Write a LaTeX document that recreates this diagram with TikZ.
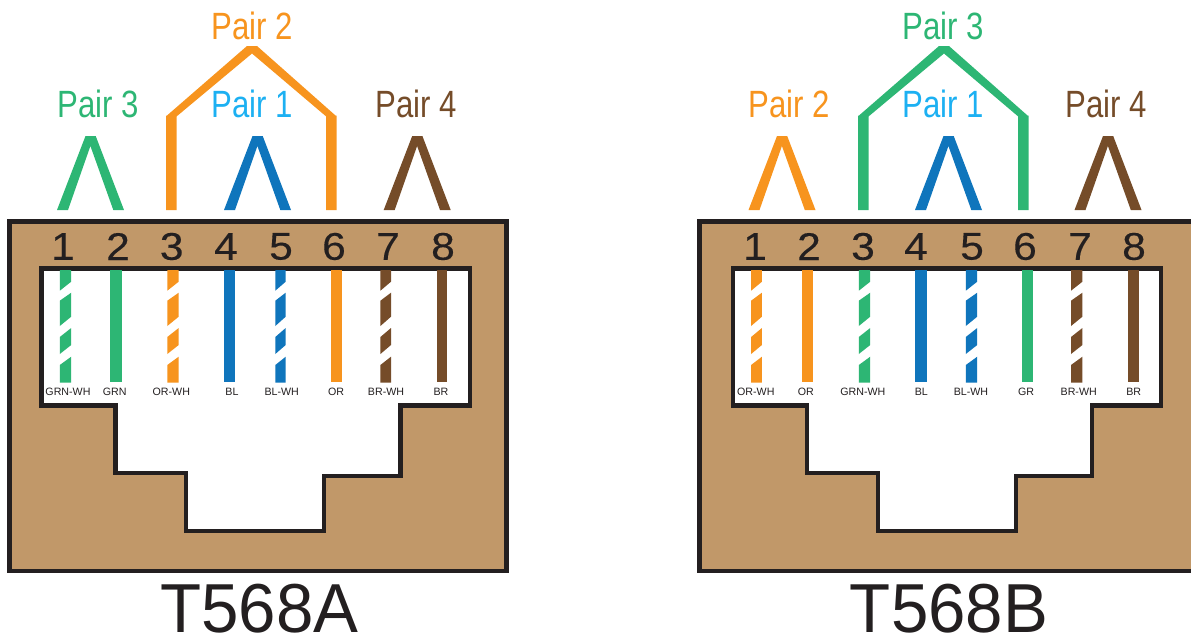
\documentclass[tikz,border=0pt]{standalone}
\usepackage{fontspec}
\setmainfont{Liberation Sans}
\newfontfamily\pinfont[FakeBold=0.25]{Liberation Sans}
\definecolor{jackbrown}{HTML}{C19869}
\definecolor{wor}{HTML}{F7941E}
\definecolor{wgr}{HTML}{2DB674}
\definecolor{wbl}{HTML}{0F75BC}
\definecolor{wbr}{HTML}{754C29}
\definecolor{tbl}{HTML}{1CB0F2}
\definecolor{ink}{HTML}{231F20}
\tikzset{
  jack/.style={draw=ink,line width=3.6pt,fill=jackbrown,line join=miter},
  cavity/.style={draw=ink,line width=3.3pt,fill=white,line join=miter},
  pairlabel/.style={font=\fontsize{28.5pt}{30pt}\selectfont,xscale=.82,transform shape,inner sep=0pt},
  pinnum/.style={font=\pinfont\fontsize{29pt}{30pt}\selectfont,text=ink,xscale=1.1,transform shape,inner sep=0pt},
  wirelabel/.style={font=\fontsize{8pt}{9pt}\selectfont,text=ink,inner sep=0pt},
  title/.style={font=\fontsize{52pt}{54pt}\selectfont,text=ink,xscale=.97,transform shape,inner sep=0pt,anchor=base}
}
% solid wire: centre x, colour, half width
\newcommand{\solidwire}[3]{\fill[#2] (#1-#3,270) rectangle (#1+#3,382);}
% striped wire
\newcommand{\stripewire}[3]{%
  \fill[#2] (#1-#3,270) -- (#1+#3,270) -- (#1+#3,281.7) -- (#1-#3,290.7) -- cycle;
  \fill[#2] (#1-#3,300.7) -- (#1+#3,292.7) -- (#1+#3,316.7) -- (#1-#3,326) -- cycle;
  \fill[#2] (#1-#3,337) -- (#1+#3,328) -- (#1+#3,345) -- (#1-#3,354) -- cycle;
  \fill[#2] (#1-#3,365) -- (#1+#3,356.7) -- (#1+#3,382.5) -- (#1-#3,382.5) -- cycle;}
% chevron: left foot x, colour
\newcommand{\chevron}[2]{%
  \fill[#2] (#1,210) -- (#1+28.5,136) -- (#1+38.7,136) -- (#1+67,210) -- (#1+56.3,210)
    -- (#1+33.4,146) -- (#1+11,210) -- cycle;}
% house: left x, colour
\newcommand{\house}[2]{%
  \fill[#2] (#1,210) -- (#1,115.5) -- (#1+1,115.5) -- (#1+81,46) -- (#1+91,46)
    -- (#1+169.5,115.5) -- (#1+170.5,115.5) -- (#1+170.5,210)
    -- (#1+160.2,210) -- (#1+160.2,116.5) -- (#1+86,53.5) -- (#1+10.5,116.5) -- (#1+10.5,210) -- cycle;}
\begin{document}
\begin{tikzpicture}[x=.75pt,y=-.75pt]
\useasboundingbox (0,0) rectangle (1191,636);
% ---------- T568A
\draw[jack] (9.5,221.5) rectangle (506.7,571);
\draw[cavity] (41.5,268.5) -- (41.5,405.5) -- (115.5,405.5) -- (115.5,473) -- (186,473) -- (186,531)
  -- (324,531) -- (324,476) -- (400.5,476) -- (400.5,405.5) -- (470,405.5) -- (470,268.5) -- cycle;
\stripewire{65.5}{wgr}{5.7}
\solidwire{116}{wgr}{5.7}
\stripewire{173}{wor}{5.7}
\solidwire{229.5}{wbl}{5.7}
\stripewire{280.5}{wbl}{5.2}
\solidwire{336.5}{wor}{5.2}
\stripewire{385.7}{wbr}{5.3}
\solidwire{441.8}{wbr}{5.2}
\foreach \n/\x in {1/63,2/118,3/171.7,4/226,5/281,6/334,7/388,8/443}
  \node[pinnum] (an\n) at (\x,246.5) {\n};
\foreach \n/\x/\t in {1/68/GRN-WH,2/114.7/GRN,3/171.3/OR-WH,4/232/BL,5/281.7/BL-WH,6/336/OR,7/386/BR-WH,8/441/BR}
  \node[wirelabel] (al\n) at (\x,392) {\t};
\chevron{57}{wgr}
\chevron{224}{wbl}
\chevron{383.7}{wbr}
\house{166}{wor}
\node[pairlabel,text=wgr] (ap3) at (98,104) {Pair 3};
\node[pairlabel,text=wor] (ap2) at (252,26) {Pair 2};
\node[pairlabel,text=tbl] (ap1) at (252,104) {Pair 1};
\node[pairlabel,text=wbr] (ap4) at (416,104) {Pair 4};
\node[title] (at) at (259.5,632.5) {T568A};
% ---------- T568B
\draw[jack] (699.5,221.5) rectangle (1197,571);
\draw[cavity] (733,268.5) -- (733,405.5) -- (807,405.5) -- (807,473) -- (878,473) -- (878,531)
  -- (1016,531) -- (1016,476) -- (1092,476) -- (1092,405.5) -- (1161,405.5) -- (1161,268.5) -- cycle;
\stripewire{756.5}{wor}{5.4}
\solidwire{807.5}{wor}{5.7}
\stripewire{864.5}{wgr}{5.7}
\solidwire{921}{wbl}{5.7}
\stripewire{971.5}{wbl}{5.7}
\solidwire{1027.5}{wgr}{5.4}
\stripewire{1076.7}{wbr}{5.7}
\solidwire{1133.5}{wbr}{5.3}
\foreach \n/\x in {1/755,2/809,3/863,4/916,5/972,6/1025,7/1080,8/1134}
  \node[pinnum] (bn\n) at (\x,246.5) {\n};
\foreach \n/\x in {1/755.8,2/805.8,3/862.8,4/921.3,5/971,6/1026,7/1078.7,8/1133.7}
  \coordinate (bc\n) at (\x,392);
\node[wirelabel] (bl1) at (bc1) {OR-WH};
\node[wirelabel] (bl2) at (bc2) {OR};
\node[wirelabel] (bl3) at (bc3) {GRN-WH};
\node[wirelabel] (bl4) at (bc4) {BL};
\node[wirelabel] (bl5) at (bc5) {BL-WH};
\node[wirelabel] (bl6) at (bc6) {GR};
\node[wirelabel] (bl7) at (bc7) {BR-WH};
\node[wirelabel] (bl8) at (bc8) {BR};
\chevron{748.5}{wor}
\chevron{915}{wbl}
\chevron{1074.5}{wbr}
\house{858}{wgr}
\node[pairlabel,text=wor] (bp2) at (789,104) {Pair 2};
\node[pairlabel,text=wgr] (bp3) at (943,26) {Pair 3};
\node[pairlabel,text=tbl] (bp1) at (943,104) {Pair 1};
\node[pairlabel,text=wbr] (bp4) at (1106,104) {Pair 4};
\node[title] (bt) at (949,632.5) {T568B};
\end{tikzpicture}
\end{document}
